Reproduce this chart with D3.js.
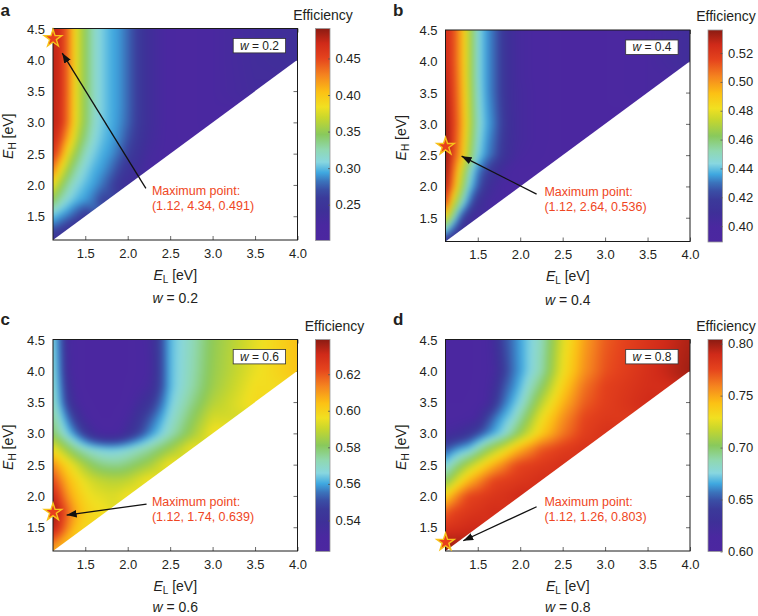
<!DOCTYPE html>
<html>
<head>
<meta charset="utf-8">
<script src="https://cdn.jsdelivr.net/npm/d3@7/dist/d3.min.js"></script>
<style>
html,body{margin:0;padding:0;background:#fff;}
svg{display:block;}
</style>
</head>
<body>
<svg id="chart" width="758" height="616"></svg>
<script>
// ---------------- DATA ----------------
// grid of band-gap energies (eV)
const elGrid = [1.12, 1.2, 1.3, 1.4, 1.5, 1.6, 1.7, 1.8, 1.9, 2.0, 2.25, 2.5, 2.75, 3.0, 3.5, 4.0];
const ehGrid = [1.12, 1.2, 1.3, 1.4, 1.5, 1.75, 2.0, 2.25, 2.5, 2.75, 3.0, 3.25, 3.5, 3.75, 4.0, 4.5];
const effA = [
  [0.248],
  [0.256, 0.248],
  [0.272, 0.262, 0.250],
  [0.290, 0.281, 0.266, 0.250],
  [0.300, 0.292, 0.283, 0.269, 0.253],
  [0.347, 0.325, 0.308, 0.297, 0.291, 0.281, 0.262],
  [0.383, 0.356, 0.327, 0.309, 0.299, 0.292, 0.282, 0.268, 0.251, 0.236],
  [0.432, 0.388, 0.353, 0.325, 0.308, 0.297, 0.291, 0.281, 0.266, 0.250, 0.223],
  [0.462, 0.432, 0.377, 0.347, 0.319, 0.305, 0.296, 0.290, 0.279, 0.263, 0.229, 0.218],
  [0.473, 0.454, 0.410, 0.365, 0.336, 0.313, 0.301, 0.294, 0.286, 0.272, 0.235, 0.217, 0.215],
  [0.476, 0.469, 0.430, 0.376, 0.346, 0.318, 0.304, 0.296, 0.289, 0.278, 0.238, 0.217, 0.214, 0.222],
  [0.476, 0.469, 0.431, 0.377, 0.347, 0.319, 0.305, 0.296, 0.290, 0.279, 0.238, 0.217, 0.214, 0.222],
  [0.477, 0.469, 0.432, 0.377, 0.347, 0.319, 0.305, 0.296, 0.290, 0.279, 0.238, 0.217, 0.214, 0.222, 0.232],
  [0.477, 0.469, 0.432, 0.377, 0.347, 0.319, 0.305, 0.296, 0.290, 0.279, 0.238, 0.217, 0.214, 0.222, 0.233],
  [0.477, 0.469, 0.432, 0.377, 0.347, 0.319, 0.305, 0.296, 0.290, 0.279, 0.238, 0.217, 0.214, 0.222, 0.234, 0.240],
  [0.474, 0.469, 0.432, 0.377, 0.347, 0.319, 0.305, 0.296, 0.290, 0.279, 0.238, 0.217, 0.214, 0.222, 0.234, 0.240]
];
const effB = [
  [0.415],
  [0.425, 0.415],
  [0.445, 0.428, 0.410],
  [0.462, 0.440, 0.418, 0.406],
  [0.482, 0.455, 0.425, 0.410, 0.402],
  [0.518, 0.482, 0.452, 0.430, 0.413, 0.404, 0.400],
  [0.530, 0.505, 0.470, 0.442, 0.427, 0.413, 0.404, 0.400, 0.398, 0.397],
  [0.534, 0.512, 0.480, 0.450, 0.432, 0.422, 0.412, 0.404, 0.399, 0.396, 0.395],
  [0.536, 0.518, 0.496, 0.466, 0.443, 0.433, 0.426, 0.414, 0.406, 0.401, 0.397, 0.394],
  [0.535, 0.520, 0.499, 0.470, 0.446, 0.435, 0.428, 0.416, 0.407, 0.403, 0.398, 0.394, 0.393],
  [0.533, 0.521, 0.501, 0.473, 0.448, 0.437, 0.430, 0.418, 0.408, 0.403, 0.398, 0.394, 0.392, 0.393],
  [0.532, 0.520, 0.500, 0.472, 0.447, 0.436, 0.429, 0.417, 0.407, 0.403, 0.398, 0.394, 0.392, 0.394],
  [0.530, 0.519, 0.499, 0.471, 0.446, 0.435, 0.428, 0.416, 0.407, 0.403, 0.398, 0.394, 0.392, 0.394, 0.400],
  [0.528, 0.518, 0.498, 0.470, 0.445, 0.435, 0.428, 0.416, 0.407, 0.402, 0.398, 0.394, 0.392, 0.394, 0.400],
  [0.526, 0.517, 0.497, 0.470, 0.445, 0.435, 0.428, 0.416, 0.407, 0.402, 0.398, 0.394, 0.392, 0.394, 0.400, 0.407],
  [0.524, 0.517, 0.497, 0.470, 0.445, 0.435, 0.428, 0.416, 0.407, 0.402, 0.398, 0.394, 0.392, 0.394, 0.400, 0.407]
];
const effC = [
  [0.607],
  [0.613, 0.605],
  [0.620, 0.612, 0.603],
  [0.628, 0.620, 0.608, 0.600],
  [0.634, 0.626, 0.612, 0.603, 0.598],
  [0.638, 0.630, 0.617, 0.607, 0.601, 0.598, 0.597],
  [0.632, 0.622, 0.610, 0.603, 0.598, 0.595, 0.594, 0.593, 0.594, 0.597],
  [0.623, 0.614, 0.605, 0.599, 0.594, 0.591, 0.589, 0.588, 0.588, 0.589, 0.597],
  [0.613, 0.605, 0.598, 0.591, 0.585, 0.580, 0.577, 0.576, 0.576, 0.578, 0.585, 0.597],
  [0.596, 0.590, 0.582, 0.575, 0.570, 0.567, 0.565, 0.564, 0.565, 0.567, 0.574, 0.584, 0.596],
  [0.580, 0.573, 0.564, 0.555, 0.545, 0.536, 0.531, 0.530, 0.532, 0.539, 0.557, 0.571, 0.584, 0.597],
  [0.575, 0.567, 0.555, 0.543, 0.533, 0.528, 0.527, 0.527, 0.529, 0.533, 0.551, 0.567, 0.580, 0.592],
  [0.571, 0.561, 0.545, 0.533, 0.528, 0.527, 0.526, 0.526, 0.527, 0.529, 0.542, 0.564, 0.576, 0.587, 0.598],
  [0.569, 0.559, 0.540, 0.530, 0.527, 0.526, 0.526, 0.526, 0.526, 0.528, 0.534, 0.562, 0.573, 0.584, 0.597],
  [0.568, 0.557, 0.535, 0.529, 0.527, 0.526, 0.526, 0.526, 0.526, 0.527, 0.532, 0.562, 0.572, 0.583, 0.595, 0.603],
  [0.566, 0.555, 0.533, 0.529, 0.527, 0.526, 0.526, 0.526, 0.526, 0.527, 0.533, 0.562, 0.571, 0.582, 0.594, 0.604]
];
const effD = [
  [0.802],
  [0.801, 0.798],
  [0.796, 0.795, 0.795],
  [0.789, 0.790, 0.791, 0.792],
  [0.783, 0.785, 0.787, 0.789, 0.790],
  [0.767, 0.775, 0.779, 0.782, 0.784, 0.786, 0.788],
  [0.735, 0.749, 0.765, 0.776, 0.778, 0.781, 0.783, 0.785, 0.787, 0.790],
  [0.700, 0.712, 0.730, 0.745, 0.756, 0.767, 0.776, 0.778, 0.780, 0.782, 0.787],
  [0.675, 0.686, 0.700, 0.713, 0.725, 0.737, 0.748, 0.758, 0.769, 0.776, 0.781, 0.786],
  [0.650, 0.658, 0.666, 0.672, 0.686, 0.700, 0.712, 0.723, 0.736, 0.747, 0.770, 0.779, 0.785],
  [0.620, 0.622, 0.627, 0.636, 0.647, 0.658, 0.667, 0.676, 0.691, 0.706, 0.738, 0.762, 0.778, 0.785],
  [0.610, 0.610, 0.611, 0.613, 0.618, 0.642, 0.657, 0.667, 0.675, 0.690, 0.728, 0.755, 0.775, 0.781],
  [0.607, 0.607, 0.607, 0.608, 0.611, 0.615, 0.637, 0.655, 0.666, 0.676, 0.714, 0.745, 0.768, 0.778, 0.789],
  [0.606, 0.606, 0.606, 0.607, 0.610, 0.614, 0.626, 0.649, 0.659, 0.669, 0.700, 0.736, 0.763, 0.777, 0.787],
  [0.606, 0.605, 0.605, 0.606, 0.609, 0.613, 0.619, 0.640, 0.655, 0.664, 0.688, 0.728, 0.755, 0.772, 0.786, 0.800],
  [0.606, 0.605, 0.605, 0.606, 0.609, 0.613, 0.625, 0.647, 0.656, 0.665, 0.685, 0.723, 0.751, 0.769, 0.784, 0.797]
];

const wLabels = ["0.2", "0.4", "0.6", "0.8"];
const panelLetters = ["a", "b", "c", "d"];
const colorRanges = [[0.201, 0.491], [0.389, 0.536], [0.523, 0.639], [0.600, 0.804]];
const cbTicksA = [0.25, 0.30, 0.35, 0.40, 0.45];
const cbTicksB = [0.40, 0.42, 0.44, 0.46, 0.48, 0.50, 0.52];
const cbTicksC = [0.54, 0.56, 0.58, 0.60, 0.62];
const cbTicksD = [0.60, 0.65, 0.70, 0.75, 0.80];
const xTicks = [1.5, 2.0, 2.5, 3.0, 3.5, 4.0];
const yTicks = [1.5, 2.0, 2.5, 3.0, 3.5, 4.0, 4.5];
const xDomain = [1.12, 4.0];
const yDomain = [1.12, 4.5];
// maximum points (E_L, E_H, efficiency)
const maxPoints = [[1.12, 4.34, 0.491], [1.12, 2.64, 0.536], [1.12, 1.74, 0.639], [1.12, 1.26, 0.803]];
// annotation arrows (data coordinates)
const arrowFrom = [[2.214, 1.945], [2.193, 1.878], [2.222, 1.870], [2.193, 1.827]];
const arrowTo = [[1.229, 4.107], [1.310, 2.484], [1.281, 1.694], [1.329, 1.284]];
const labelAt = [2.285, 1.84];

// colour map
const cmapPos = [0, 0.07, 0.14, 0.20, 0.24, 0.28, 0.32, 0.37, 0.43, 0.50, 0.58, 0.63, 0.70, 0.78, 0.86, 0.93, 1.0];
const cmapColors = ["#4c27a0", "#4a28a0", "#3e3098", "#3b3a9a", "#3a4ea5", "#3b74bc", "#3fa8e0", "#88d7e0",
  "#90d8b0", "#89c95c", "#c9d72c", "#f1e021", "#fcc114", "#f5841f", "#e5431d", "#d02a19", "#8b1b12"];

// ---------------- DRAWING ----------------
const FONT = '"Liberation Sans", Arial, Helvetica, sans-serif';
const INK = "#231f20";
const svg = d3.select("#chart").attr("font-family", FONT);
const defs = svg.append("defs");
const grad = defs.append("linearGradient").attr("id", "cmapGrad")
  .attr("x1", 0).attr("y1", 1).attr("x2", 0).attr("y2", 0);
cmapPos.forEach((t, i) => grad.append("stop").attr("offset", t).attr("stop-color", cmapColors[i]));
defs.append("marker").attr("id", "arrowHead").attr("markerUnits", "userSpaceOnUse")
  .attr("markerWidth", 11).attr("markerHeight", 8).attr("refX", 10).attr("refY", 3.75)
  .attr("orient", "auto")
  .append("path").attr("d", "M0,0 L10,3.75 L0,7.5 Z").attr("fill", "#111");

const grids = [effA, effB, effC, effD];
const cbTicks = [cbTicksA, cbTicksB, cbTicksC, cbTicksD];
const offsets = [[0, 0], [392.5, 1.5], [0, 311], [392.5, 311]];
const titleX = [323, 333.5, 334.5, 333.5];

function interp(grid, el, eh) {
  const ni = elGrid.length, nj = ehGrid.length;
  let i = d3.bisectRight(elGrid, el) - 1; i = Math.max(0, Math.min(ni - 2, i));
  let j = d3.bisectRight(ehGrid, eh) - 1; j = Math.max(0, Math.min(nj - 2, j));
  const tx = Math.max(0, Math.min(1, (el - elGrid[i]) / (elGrid[i + 1] - elGrid[i])));
  const ty = Math.max(0, Math.min(1, (eh - ehGrid[j]) / (ehGrid[j + 1] - ehGrid[j])));
  const cs = [[i, j, (1 - tx) * (1 - ty)], [i + 1, j, tx * (1 - ty)], [i, j + 1, (1 - tx) * ty], [i + 1, j + 1, tx * ty]];
  let s = 0, ws = 0;
  for (const [ci, cj, cw] of cs) {
    const row = grid[cj];
    if (ci < row.length) { s += row[ci] * cw; ws += cw; }
  }
  if (ws > 1e-9) return s / ws;
  const row = grid[j + 1];
  return row[Math.min(i, row.length - 1)];
}

function wText(sel, val) {
  sel.append("tspan").attr("font-style", "italic").text("w");
  sel.append("tspan").text(" = " + val);
}

grids.forEach((grid, k) => {
  const [ox, oy] = offsets[k];
  const left = ox + 53, right = ox + 297.5, top = oy + 28.5, bottom = oy + 240;
  const x = d3.scaleLinear().domain(xDomain).range([left, right]);
  const y = d3.scaleLinear().domain(yDomain).range([bottom, top]);
  const [lo, hi] = colorRanges[k];
  const color = d3.scaleLinear().domain(cmapPos.map(t => lo + t * (hi - lo))).range(cmapColors).clamp(true);
  const g = svg.append("g");

  // ticks (inward)
  const bottomAxis = g.append("g").attr("transform", `translate(0,${bottom})`)
    .call(d3.axisBottom(x).tickValues(xTicks).tickSizeInner(-4).tickSizeOuter(0).tickPadding(8.5).tickFormat(d3.format(".1f")));
  const leftAxis = g.append("g").attr("transform", `translate(${left},0)`)
    .call(d3.axisLeft(y).tickValues(yTicks).tickSizeInner(-4).tickSizeOuter(0).tickPadding(8).tickFormat(d3.format(".1f")));
  const rightAxis = g.append("g").attr("transform", `translate(${right},0)`)
    .call(d3.axisLeft(y).tickValues(yTicks).tickSizeInner(4).tickSizeOuter(0).tickFormat(""));
  const topAxis = g.append("g").attr("transform", `translate(0,${top})`)
    .call(d3.axisBottom(x).tickValues(xTicks).tickSizeInner(4).tickSizeOuter(0).tickFormat(""));
  [bottomAxis, leftAxis, rightAxis, topAxis].forEach(a => {
    a.select(".domain").remove();
    a.attr("font-family", null).attr("font-size", null);
    a.selectAll(".tick line").attr("stroke", "#444").attr("stroke-width", 0.8);
    a.selectAll("text").attr("font-size", 13).attr("fill", INK).attr("font-family", FONT);
  });
  leftAxis.selectAll("text").attr("dy", "0.35em");

  // heat map image (smoothly shaded from the grid)
  const pad = 12;
  const PW = Math.ceil(right - left), PH = Math.ceil(bottom - top);
  const W = PW + 2 * pad, H = PH + 2 * pad;
  const cv = document.createElement("canvas"); cv.width = W; cv.height = H;
  const ctx = cv.getContext("2d");
  const img = ctx.createImageData(W, H);
  for (let j = 0; j < H; j++) {
    const eh = Math.max(yDomain[0], Math.min(yDomain[1], y.invert(top - pad + j + 0.5)));
    for (let i = 0; i < W; i++) {
      let el = Math.max(xDomain[0], Math.min(xDomain[1], x.invert(left - pad + i + 0.5)));
      if (el > eh) el = eh;
      const v = interp(grid, el, eh);
      const c = d3.rgb(color(v));
      const p = (j * W + i) * 4;
      img.data[p] = c.r; img.data[p + 1] = c.g; img.data[p + 2] = c.b; img.data[p + 3] = 255;
    }
  }
  ctx.putImageData(img, 0, 0);
  const out = document.createElement("canvas"); out.width = PW; out.height = PH;
  const octx = out.getContext("2d");
  octx.filter = "blur(3px)";
  octx.drawImage(cv, -pad, -pad);
  const clipId = "clip" + k;
  const tri = [[xDomain[0], xDomain[0]], [xDomain[1], xDomain[1]], [xDomain[1], yDomain[1]], [xDomain[0], yDomain[1]]];
  defs.append("clipPath").attr("id", clipId).append("path")
    .attr("d", d3.line().x(d => x(d[0])).y(d => y(d[1]))(tri) + "Z");
  g.append("image").attr("x", left).attr("y", top).attr("width", PW).attr("height", PH)
    .attr("preserveAspectRatio", "none").attr("href", out.toDataURL()).attr("clip-path", `url(#${clipId})`);

  // frame
  g.append("rect").attr("x", left).attr("y", top).attr("width", right - left).attr("height", bottom - top)
    .attr("fill", "none").attr("stroke", "#1a1a1a").attr("stroke-width", 1);

  // inner w box
  const bx = right - 64.3, by = top + 10;
  g.append("rect").attr("x", bx).attr("y", by).attr("width", 52.4).attr("height", 14.4)
    .attr("fill", "#fff").attr("stroke", "#333").attr("stroke-width", 0.8);
  wText(g.append("text").attr("x", bx + 26.2).attr("y", by + 11).attr("text-anchor", "middle")
    .attr("font-size", 12).attr("fill", INK), wLabels[k]);

  // arrow + star + label
  g.append("line").attr("x1", x(arrowFrom[k][0])).attr("y1", y(arrowFrom[k][1]))
    .attr("x2", x(arrowTo[k][0])).attr("y2", y(arrowTo[k][1]))
    .attr("stroke", "#111").attr("stroke-width", 1.3).attr("marker-end", "url(#arrowHead)");
  const mp = maxPoints[k];
  g.append("path").attr("d", d3.symbol().type(d3.symbolStar).size(95)())
    .attr("transform", `translate(${x(mp[0])},${y(mp[1])})`)
    .attr("fill", "#e8401c").attr("stroke", "#f7c31a").attr("stroke-width", 1.4);
  const lt = g.append("text").attr("font-size", 12.5).attr("fill", "#ef4623");
  lt.append("tspan").attr("x", x(labelAt[0])).attr("y", y(labelAt[1])).text("Maximum point:");
  lt.append("tspan").attr("x", x(labelAt[0])).attr("dy", 15)
    .text(`(${mp[0].toFixed(2)}, ${mp[1].toFixed(2)}, ${mp[2].toFixed(3)})`);

  // axis titles
  const xl = g.append("text").attr("x", (left + right) / 2).attr("y", oy + 279.5).attr("text-anchor", "middle")
    .attr("font-size", 14).attr("fill", INK);
  xl.append("tspan").attr("font-style", "italic").text("E");
  xl.append("tspan").attr("font-size", 10).attr("dy", 3).text("L");
  xl.append("tspan").attr("dy", -3).text(" [eV]");
  const yl = g.append("text").attr("transform", `translate(${ox + 13},${(top + bottom) / 2 + 2}) rotate(-90)`)
    .attr("text-anchor", "middle").attr("font-size", 14).attr("fill", INK);
  yl.append("tspan").attr("font-style", "italic").text("E");
  yl.append("tspan").attr("font-size", 10).attr("dy", 3).text("H");
  yl.append("tspan").attr("dy", -3).text(" [eV]");

  // caption below
  const capY = k < 2 ? oy + 303 : 612;
  wText(g.append("text").attr("x", (left + right) / 2).attr("y", capY).attr("text-anchor", "middle")
    .attr("font-size", 14).attr("fill", INK), wLabels[k]);

  // panel letter
  g.append("text").attr("x", ox + 0.5).attr("y", k < 2 ? 15.5 : oy + 13.5).attr("font-size", 17).attr("font-weight", "bold")
    .attr("fill", INK).text(panelLetters[k]);

  // colour bar
  const cbL = ox + 315.5, cbW = 14.5, cbT = oy + 28.5, cbB = oy + 240.5;
  const cy = d3.scaleLinear().domain(colorRanges[k]).range([cbB, cbT]);
  g.append("rect").attr("x", cbL).attr("y", cbT).attr("width", cbW).attr("height", cbB - cbT)
    .attr("fill", "url(#cmapGrad)").attr("stroke", "#9a9a9a").attr("stroke-width", 0.8);
  const cbAxis = g.append("g").attr("transform", `translate(${cbL + cbW},0)`)
    .call(d3.axisLeft(cy).tickValues(cbTicks[k]).tickSizeInner(2).tickSizeOuter(0).tickFormat(""));
  cbAxis.select(".domain").remove();
  cbAxis.selectAll(".tick line").attr("stroke", "#555").attr("stroke-width", 0.8);
  g.selectAll(null).data(cbTicks[k]).enter().append("text")
    .attr("x", cbL + cbW + 5.5).attr("y", d => cy(d)).attr("dy", "0.35em")
    .attr("font-size", 13).attr("fill", INK).text(d => d3.format(".2f")(d));
  g.append("text").attr("x", ox + titleX[k]).attr("y", oy + 19.5).attr("text-anchor", "middle")
    .attr("font-size", 14).attr("fill", INK).text("Efficiency");
});
</script>
</body>
</html>
